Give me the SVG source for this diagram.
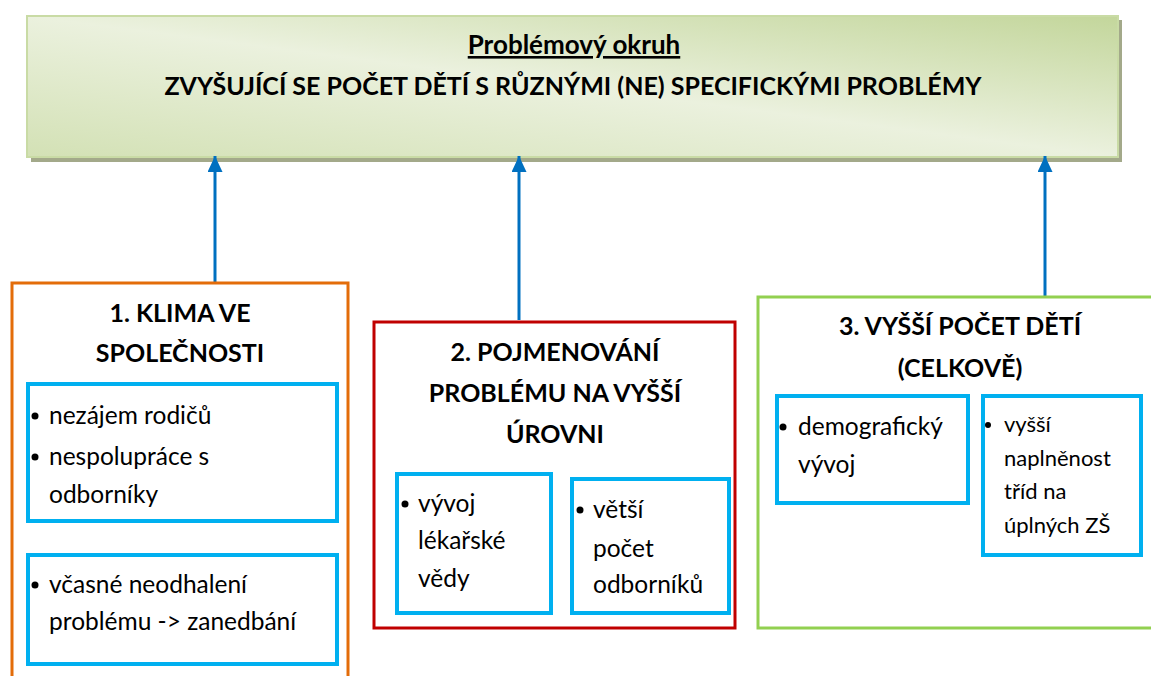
<svg xmlns="http://www.w3.org/2000/svg" width="1151" height="676" viewBox="0 0 1151 676">
<style>
.t{font-family:Lato,"Open Sans","Liberation Sans",sans-serif;fill:#000}
.h{font-weight:bold;font-size:25px;text-anchor:middle}
.b{font-size:24.5px}
.s{font-size:22px}
.sub{fill:#fff;stroke:#00b0f0;stroke-width:4}
.bul{fill:#000}
.conn{stroke:#0070c0;stroke-width:3;fill:none}
</style>
<defs>
<linearGradient id="g" x1="1" y1="0" x2="0" y2="1">
<stop offset="0" stop-color="#c3d69b"/>
<stop offset="0.5" stop-color="#ebf1de"/>
<stop offset="1" stop-color="#d3e1b5"/>
</linearGradient>
<marker id="ah" markerWidth="16" markerHeight="15" refX="16" refY="7.5" orient="auto" markerUnits="userSpaceOnUse" viewBox="0 0 16 15">
<path d="M0,0 L16,7.5 L0,15 Z" fill="#0070c0"/>
</marker>
</defs>
<rect width="1151" height="676" fill="#fff"/>
<g id="problem">
<rect x="31" y="20" width="1091" height="142" fill="#a3a98a"/>
<rect x="27" y="16" width="1091" height="141" fill="url(#g)" stroke="#c9dba5" stroke-width="2"/>
<text class="t" x="574" y="54" font-weight="bold" font-size="26" text-anchor="middle" text-decoration="underline">Problémový okruh</text>
<text class="t" x="573" y="95" font-weight="bold" font-size="25" text-anchor="middle">ZVYŠUJÍCÍ SE POČET DĚTÍ S RŮZNÝMI (NE) SPECIFICKÝMI PROBLÉMY</text>
</g>
<g id="connectors">
<line class="conn" x1="215" y1="282" x2="215" y2="156" marker-end="url(#ah)"/>
<line class="conn" x1="519" y1="320" x2="519" y2="156" marker-end="url(#ah)"/>
<line class="conn" x1="1045" y1="296" x2="1045" y2="156" marker-end="url(#ah)"/>
</g>
<g id="node1">
<rect x="12" y="283" width="336" height="420" fill="#fff" stroke="#e36c09" stroke-width="3"/>
<text class="t h" x="180" y="322">1. KLIMA VE</text>
<text class="t h" x="180" y="362">SPOLEČNOSTI</text>
<g id="node1a">
<rect class="sub" x="28" y="384" width="309" height="137"/>
<circle class="bul" cx="35" cy="416" r="3.5"/>
<text class="t b" x="49" y="424">nezájem rodičů</text>
<circle class="bul" cx="35" cy="457" r="3.5"/>
<text class="t b" x="49" y="465">nespolupráce s</text>
<text class="t b" x="49" y="503">odborníky</text>
</g>
<g id="node1b">
<rect class="sub" x="28" y="555" width="309" height="109"/>
<circle class="bul" cx="35" cy="585" r="3.5"/>
<text class="t b" x="49" y="593">včasné neodhalení</text>
<text class="t b" x="49" y="630">problému -&gt; zanedbání</text>
</g>
</g>
<g id="node2">
<rect x="374" y="322" width="361" height="306" fill="#fff" stroke="#c00000" stroke-width="3"/>
<text class="t h" x="555" y="361">2. POJMENOVÁNÍ</text>
<text class="t h" x="555" y="402">PROBLÉMU NA VYŠŠÍ</text>
<text class="t h" x="555" y="443">ÚROVNI</text>
<g id="node2a">
<rect class="sub" x="397" y="474" width="154" height="139"/>
<circle class="bul" cx="405" cy="504" r="3.5"/>
<text class="t b" x="418" y="512">vývoj</text>
<text class="t b" x="418" y="549">lékařské</text>
<text class="t b" x="418" y="587">vědy</text>
</g>
<g id="node2b">
<rect class="sub" x="572" y="479" width="157" height="134"/>
<circle class="bul" cx="580" cy="510" r="3.5"/>
<text class="t b" x="593" y="518">větší</text>
<text class="t b" x="593" y="557">počet</text>
<text class="t b" x="593" y="593">odborníků</text>
</g>
</g>
<g id="node3">
<rect x="758" y="297" width="420" height="331" fill="#fff" stroke="#92d050" stroke-width="3"/>
<text class="t h" x="960" y="335">3. VYŠŠÍ POČET DĚTÍ</text>
<text class="t h" x="960" y="377">(CELKOVĚ)</text>
<g id="node3a">
<rect class="sub" x="777" y="396" width="191" height="107"/>
<circle class="bul" cx="783" cy="427" r="3.5"/>
<text class="t b" x="798" y="435">demografický</text>
<text class="t b" x="798" y="473">vývoj</text>
</g>
<g id="node3b">
<rect class="sub" x="983" y="396" width="158" height="159"/>
<circle class="bul" cx="988" cy="425" r="3"/>
<text class="t s" x="1004" y="432">vyšší</text>
<text class="t s" x="1004" y="466">naplněnost</text>
<text class="t s" x="1004" y="499">tříd na</text>
<text class="t s" x="1004" y="533">úplných ZŠ</text>
</g>
</g>
</svg>
